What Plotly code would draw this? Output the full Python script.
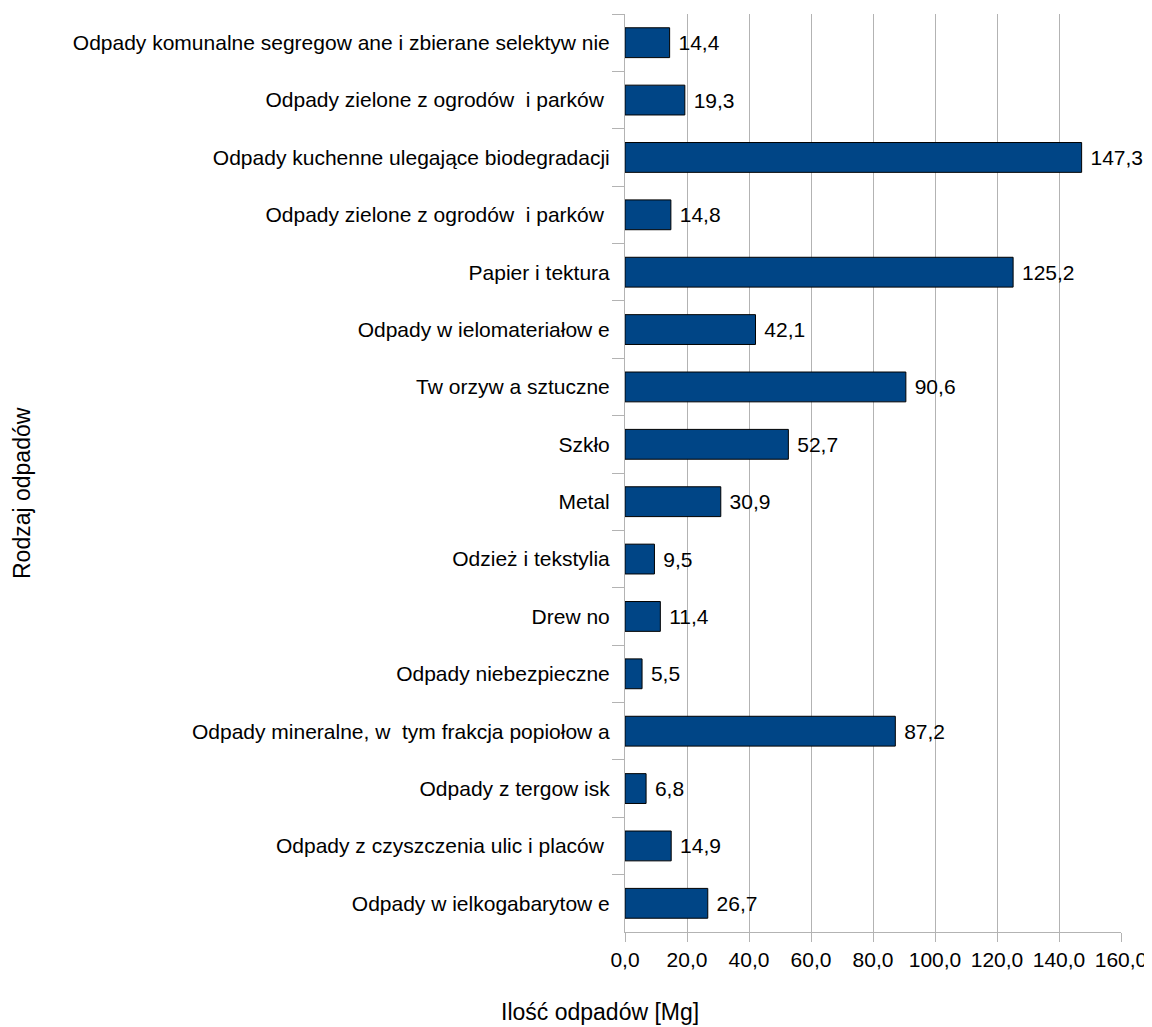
import plotly.graph_objects as go

categories = [
    "Odpady komunalne segregow ane i zbierane selektyw nie",
    "Odpady zielone z ogrodów  i parków ",
    "Odpady kuchenne ulegające biodegradacji",
    "Odpady zielone z ogrodów  i parków \u200b",
    "Papier i tektura",
    "Odpady w ielomateriałow e",
    "Tw orzyw a sztuczne",
    "Szkło",
    "Metal",
    "Odzież i tekstylia",
    "Drew no",
    "Odpady niebezpieczne",
    "Odpady mineralne, w  tym frakcja popiołow a",
    "Odpady z tergow isk",
    "Odpady z czyszczenia ulic i placów ",
    "Odpady w ielkogabarytow e",
]
values = [14.4, 19.3, 147.3, 14.8, 125.2, 42.1, 90.6, 52.7, 30.9, 9.5, 11.4, 5.5, 87.2, 6.8, 14.9, 26.7]
x_ticks = [0, 20, 40, 60, 80, 100, 120, 140, 160]

FONT = "Liberation Sans, Arial, sans-serif"
FS = 21
FS_TITLE = 23

# figure is placed with an 8px page margin, so size/margins compensate
W, H = 1144, 1019
L, R, T, B = 617, 31, 6, 95
PW, PH = W - L - R, H - T - B

fig = go.Figure(go.Bar(
    y=categories,
    x=values,
    orientation="h",
    marker=dict(color="#004586", line=dict(color="#000000", width=1)),
    texttemplate="\u00a0%{x:.1f}",
    textposition="outside",
    textfont=dict(family=FONT, size=FS, color="#000000"),
    cliponaxis=False,
))

fig.update_layout(
    width=W, height=H,
    paper_bgcolor="white", plot_bgcolor="white",
    separators=",.",
    margin=dict(l=L, r=R, t=T, b=B, autoexpand=False),
    bargap=0.48,
    showlegend=False,
    font=dict(family=FONT, size=FS, color="#000000"),
    xaxis=dict(
        range=[0, 160], tickvals=x_ticks, tickformat=".1f",
        showgrid=True, gridcolor="#b3b3b3", gridwidth=1,
        showline=True, linecolor="#b3b3b3", linewidth=1,
        ticks="outside", ticklen=9, tickcolor="#b3b3b3",
        zeroline=False, automargin=False,
        tickfont=dict(family=FONT, size=FS, color="#000000"),
    ),
    yaxis=dict(
        autorange="reversed", type="category",
        showline=True, linecolor="#b3b3b3", linewidth=1,
        ticks="outside", tickson="boundaries", ticklen=12, tickcolor="#b3b3b3",
        ticklabelstandoff=10,
        showgrid=False, automargin=False,
        tickfont=dict(family=FONT, size=FS, color="#000000"),
    ),
    annotations=[
        dict(text="Ilość odpadów [Mg]", xref="paper", yref="paper",
             x=(592 - L) / PW, y=-(1004 - (T + PH)) / PH, xanchor="center", yanchor="middle",
             showarrow=False, font=dict(family=FONT, size=FS_TITLE, color="#000000")),
        dict(text="Rodzaj odpadów", xref="paper", yref="paper",
             x=(14 - L) / PW, y=1 - (485 - T) / PH, xanchor="center", yanchor="middle",
             textangle=-90, showarrow=False, font=dict(family=FONT, size=FS_TITLE, color="#000000")),
    ],
)

fig.write_html("out.html")
